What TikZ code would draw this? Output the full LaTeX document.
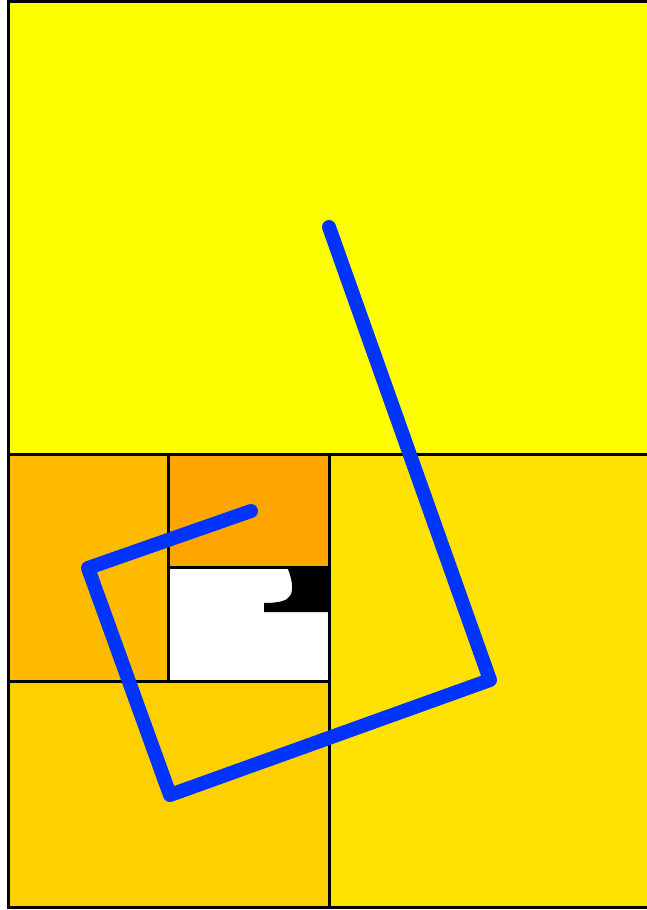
\documentclass[tikz,border=0pt]{standalone}
\definecolor{cTop}{HTML}{FFFF00}
\definecolor{cRight}{HTML}{FFE200}
\definecolor{cLeftMid}{HTML}{FFBB00}
\definecolor{cOrange}{HTML}{FFA500}
\definecolor{cBotLeft}{HTML}{FFD000}
\definecolor{cBlue}{HTML}{0033FF}
\tikzset{
  edge/.style={line width=3pt, black},
  spiral/.style={line width=14pt, cBlue, line cap=round, line join=round}
}
\begin{document}
\begin{tikzpicture}[x=1pt,y=-1pt]
\useasboundingbox (0,0) rectangle (647,910);
\clip (0,0) rectangle (647,910);
\fill[white] (0,0) rectangle (647,910);
% fills
\fill[cTop] (8,1.5) rectangle (700,454);
\fill[cRight] (329,454) rectangle (700,907);
\fill[cLeftMid] (8,454) rectangle (168,681);
\fill[cOrange] (168,454) rectangle (329,567);
\fill[white] (168,567) rectangle (329,681);
\fill[cBotLeft] (8,681) rectangle (329,907);
% black notch
\fill[black] (287,567) .. controls (292,578) and (294,590) .. (290,596)
  .. controls (287,601) and (278,603) .. (264,603) -- (264,612) -- (329,612) -- (329,567) -- cycle;
% edges
\draw[edge] (8,1.5) rectangle (700,907);
\draw[edge] (8,454) -- (700,454);
\draw[edge] (329,454) -- (329,907);
\draw[edge] (168,454) -- (168,681);
\draw[edge] (168,567) -- (329,567);
\draw[edge] (8,681) -- (329,681);
% spiral polyline
\coordinate (p1) at (329,227);
\coordinate (p2) at (490,680);
\coordinate (p3) at (170,795);
\coordinate (p4) at (88,568);
\coordinate (p5) at (251,511);
\draw[spiral] (p1) -- (p2) -- (p3) -- (p4) -- (p5);
\end{tikzpicture}
\end{document}
